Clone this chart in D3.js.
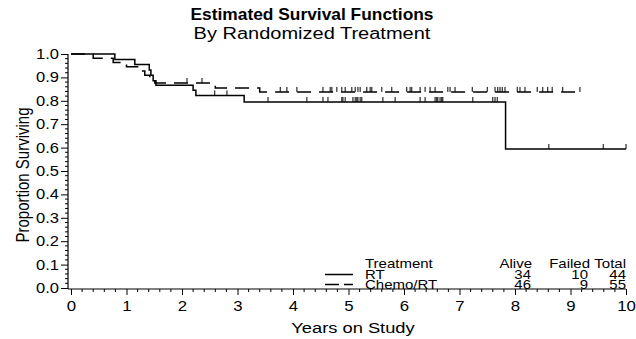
<!DOCTYPE html>
<html>
<head>
<meta charset="utf-8">
<script src="https://cdn.jsdelivr.net/npm/d3@7/dist/d3.min.js"></script>
<style>
  html, body { margin: 0; padding: 0; background: #fff; }
  svg { display: block; }
  text { font-family: "Liberation Sans", Arial, Helvetica, sans-serif; fill: #000; }
</style>
</head>
<body>
<svg id="chart" width="636" height="339"></svg>
<script>
// Kaplan-Meier estimates by randomized treatment
const yearTicks = [0, 1, 2, 3, 4, 5, 6, 7, 8, 9, 10];
const survTicks = [0, 0.1, 0.2, 0.3, 0.4, 0.5, 0.6, 0.7, 0.8, 0.9, 1.0];

// RT arm: step times (years) and survival after each step
const rtTimes = [0, 0.79, 1.15, 1.41, 1.44, 1.48, 1.53, 2.20, 2.25, 3.12, 7.83];
const rtSurv  = [1.0, 0.977, 0.955, 0.932, 0.909, 0.886, 0.866, 0.845, 0.823, 0.795, 0.594];
const rtEnd = 10.0;
const rtCensored = [2.59, 2.81, 3.55, 4.25, 4.54, 4.63, 4.88, 4.90, 4.94, 5.08, 5.12, 5.15,
  5.17, 5.21, 5.24, 5.62, 5.84, 6.29, 6.38, 6.56, 6.59, 6.61, 6.65, 6.68, 6.70, 7.24,
  7.60, 7.64, 7.68, 8.61, 9.59, 10.0];

// Chemo/RT arm
const crTimes = [0, 0.40, 0.76, 1.00, 1.20, 1.33, 1.42, 1.51, 2.60, 3.40];
const crSurv  = [1.0, 0.982, 0.964, 0.945, 0.927, 0.909, 0.891, 0.876, 0.855, 0.838];
const crEnd = 9.17;
const crCensored = [2.09, 2.36, 3.77, 3.89, 4.07, 4.54, 4.67, 4.70, 4.79, 4.88, 4.94, 5.06,
  5.12, 5.17, 5.21, 5.33, 5.39, 5.42, 5.60, 5.78, 6.05, 6.11, 6.14, 6.29, 6.38, 6.47,
  6.56, 6.79, 6.83, 6.92, 7.23, 7.50, 7.64, 7.69, 7.73, 7.77, 7.82, 8.04, 8.09, 8.18,
  8.40, 8.50, 8.59, 8.67, 8.86, 9.17];

// Legend table
const legendNames = ["RT", "Chemo/RT"];
const legendAlive = [34, 46];
const legendFailed = [10, 9];
const legendTotal = [44, 55];

const svg = d3.select("#chart");
const x = d3.scaleLinear().domain([0, 10]).range([71, 626]);
const y = d3.scaleLinear().domain([0, 1]).range([288, 54]);
const axisX0 = 68, axisY0 = 289;

// Text drawn with a slight horizontal widening, anchored at (tx, ty)
function wideText(parent, tx, ty, str, size, anchor, sx, weight) {
  return parent.append("text")
    .attr("transform", `translate(${tx},${ty}) scale(${sx},1)`)
    .attr("text-anchor", anchor || "start")
    .style("font-size", size + "px")
    .style("font-weight", weight || "normal")
    .text(str);
}

// Titles
wideText(svg, 312, 20, "Estimated Survival Functions", 16, "middle", 1.085, "bold");
wideText(svg, 312, 39, "By Randomized Treatment", 16, "middle", 1.25);

// Y axis
const yAxis = d3.axisLeft(y).tickValues(survTicks).tickFormat(d3.format(".1f"))
  .tickSize(7).tickSizeOuter(0);
const gy = svg.append("g").attr("transform", `translate(${axisX0},0)`).call(yAxis);
gy.select(".domain").remove();
gy.selectAll("text").style("font-size", "14px").attr("x", 0)
  .attr("transform", "translate(-9,0) scale(1.18,1)");
gy.selectAll("line").attr("stroke", "#000");
svg.append("line").attr("x1", axisX0).attr("x2", axisX0)
  .attr("y1", y(1)).attr("y2", axisY0).attr("stroke", "#000").attr("stroke-width", 1.2);
const minorY = d3.range(0, 1.0001, 0.02).filter(v => Math.abs(v * 10 - Math.round(v * 10)) > 1e-6);
svg.append("g").selectAll("line").data(minorY).join("line")
  .attr("x1", axisX0 - 3).attr("x2", axisX0)
  .attr("y1", d => y(d)).attr("y2", d => y(d)).attr("stroke", "#000");

// X axis
const xAxis = d3.axisBottom(x).tickValues(yearTicks).tickFormat(d3.format("d"))
  .tickSize(6).tickSizeOuter(0);
const gx = svg.append("g").attr("transform", `translate(0,${axisY0})`).call(xAxis);
gx.select(".domain").remove();
gx.selectAll("text").style("font-size", "14px").attr("y", 0)
  .attr("transform", "translate(0,12) scale(1.2,1)");
svg.append("line").attr("x1", axisX0).attr("x2", x(10))
  .attr("y1", axisY0).attr("y2", axisY0).attr("stroke", "#000").attr("stroke-width", 1.2);
const minorX = d3.range(0, 10.0001, 0.2).filter(v => Math.abs(v - Math.round(v)) > 1e-6);
svg.append("g").selectAll("line").data(minorX).join("line")
  .attr("x1", d => x(d)).attr("x2", d => x(d))
  .attr("y1", axisY0).attr("y2", axisY0 + 3).attr("stroke", "#000");

// Axis titles
wideText(svg, 353, 333, "Years on Study", 15, "middle", 1.22);
svg.append("text").attr("transform", "translate(29,175) scale(1.25,1) rotate(-90)")
  .attr("text-anchor", "middle").style("font-size", "15px").text("Proportion Surviving");

// Survival step curves
function stepPoints(times, surv, end) {
  const pts = times.map((t, i) => [t, surv[i]]);
  pts.push([end, surv[surv.length - 1]]);
  return pts;
}
function survAt(times, surv, t) {
  let s = surv[0];
  for (let i = 0; i < times.length; i++) if (times[i] <= t) s = surv[i];
  return s;
}
const line = d3.line().x(d => x(d[0])).y(d => y(d[1])).curve(d3.curveStepAfter);

const arms = [
  { times: rtTimes, surv: rtSurv, end: rtEnd, cens: rtCensored, dash: null },
  { times: crTimes, surv: crSurv, end: crEnd, cens: crCensored, dash: "14,8" }
];
arms.forEach(a => {
  svg.append("path").datum(stepPoints(a.times, a.surv, a.end))
    .attr("d", line).attr("fill", "none").attr("stroke", "#000")
    .attr("stroke-width", 1.5).attr("stroke-dasharray", a.dash);
  svg.append("g").selectAll("line").data(a.cens).join("line")
    .attr("x1", d => x(d)).attr("x2", d => x(d))
    .attr("y1", d => y(survAt(a.times, a.surv, d)))
    .attr("y2", d => y(survAt(a.times, a.surv, d)) - 5)
    .attr("stroke", "#000").attr("stroke-width", 1);
});

// Legend
const lg = svg.append("g");
const lsx = 1.2, lsz = 12.5;
wideText(lg, 365, 268, "Treatment", lsz, "start", lsx);
wideText(lg, 532, 268, "Alive", lsz, "end", lsx);
wideText(lg, 590, 268, "Failed", lsz, "end", lsx);
wideText(lg, 626, 268, "Total", lsz, "end", lsx);
const rowY = [278.5, 288.5];
legendNames.forEach((n, i) => {
  lg.append("line").attr("x1", 325).attr("x2", 353)
    .attr("y1", rowY[i] - 4).attr("y2", rowY[i] - 4).attr("stroke", "#000")
    .attr("stroke-width", 1.5).attr("stroke-dasharray", i === 1 ? "14,5" : null);
  wideText(lg, 365, rowY[i], n, lsz, "start", lsx);
  wideText(lg, 531, rowY[i], legendAlive[i], lsz, "end", lsx);
  wideText(lg, 588, rowY[i], legendFailed[i], lsz, "end", lsx);
  wideText(lg, 626, rowY[i], legendTotal[i], lsz, "end", lsx);
});
</script>
</body>
</html>
